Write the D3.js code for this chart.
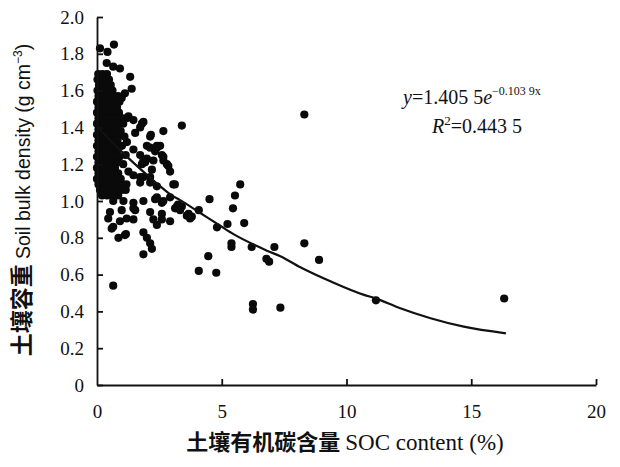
<!DOCTYPE html>
<html><head><meta charset="utf-8">
<script src="https://cdn.jsdelivr.net/npm/d3@7/dist/d3.min.js"></script>
<style>body{margin:0;background:#fff}svg{display:block}</style>
</head><body>
<svg id="chart" width="620" height="467"></svg>
<script>
// ---- data ----
const xTicks = [0, 5, 10, 15, 20];
const xTickLabels = ["0", "5", "10", "15", "20"];
const yTicks = [0, 0.2, 0.4, 0.6, 0.8, 1.0, 1.2, 1.4, 1.6, 1.8, 2.0];
const yTickLabels = ["0", "0.2", "0.4", "0.6", "0.8", "1.0", "1.2", "1.4", "1.6", "1.8", "2.0"];

// SOC content (%) , soil bulk density (g cm-3)
const samples = [
  // top
  [0.12,1.83],[0.68,1.85],[0.42,1.81],[0.39,1.75],[0.65,1.73],[0.92,1.72],
  [1.33,1.675],[1.39,1.61],[1.12,1.585],[0.99,1.56],
  // dense cluster near the origin
  [0.05,1.69],[0.22,1.69],[0.4,1.69],
  [0.02,1.66],[0.15,1.66],[0.3,1.66],[0.48,1.66],
  [0.08,1.63],[0.22,1.63],[0.38,1.63],[0.55,1.63],
  [0.02,1.60],[0.15,1.60],[0.3,1.60],[0.45,1.60],[0.62,1.60],
  [0.06,1.57],[0.2,1.57],[0.35,1.57],[0.5,1.57],[0.68,1.57],[0.85,1.57],
  [0.0,1.54],[0.13,1.54],[0.28,1.54],[0.42,1.54],[0.58,1.54],[0.74,1.54],[0.9,1.54],
  [0.06,1.51],[0.2,1.51],[0.35,1.51],[0.5,1.51],[0.65,1.51],[0.8,1.51],
  [0.0,1.48],[0.13,1.48],[0.27,1.48],[0.42,1.48],[0.57,1.48],[0.72,1.48],[0.88,1.48],
  [0.06,1.45],[0.2,1.45],[0.35,1.45],[0.5,1.45],[0.65,1.45],[0.8,1.45],[0.98,1.45],
  [0.0,1.42],[0.13,1.42],[0.28,1.42],[0.43,1.42],[0.58,1.42],[0.72,1.42],[0.88,1.42],
  [0.06,1.39],[0.2,1.39],[0.35,1.39],[0.5,1.39],[0.65,1.39],[0.82,1.39],
  [0.0,1.36],[0.14,1.36],[0.28,1.36],[0.43,1.36],[0.58,1.36],[0.74,1.36],[0.92,1.36],
  [0.06,1.33],[0.2,1.33],[0.35,1.33],[0.5,1.33],[0.66,1.33],[0.82,1.33],
  [0.0,1.30],[0.13,1.30],[0.28,1.30],[0.42,1.30],[0.57,1.30],[0.72,1.30],[0.88,1.30],
  [0.06,1.27],[0.2,1.27],[0.35,1.27],[0.5,1.27],[0.65,1.27],[0.8,1.27],
  [0.0,1.24],[0.14,1.24],[0.28,1.24],[0.43,1.24],[0.58,1.24],[0.74,1.24],[0.9,1.24],
  [0.06,1.21],[0.2,1.21],[0.35,1.21],[0.5,1.21],[0.66,1.21],[0.82,1.21],
  [0.0,1.18],[0.13,1.18],[0.28,1.18],[0.42,1.18],[0.57,1.18],[0.72,1.18],
  [0.06,1.15],[0.2,1.15],[0.35,1.15],[0.5,1.15],[0.65,1.15],[0.85,1.15],
  [0.0,1.12],[0.14,1.12],[0.28,1.12],[0.43,1.12],[0.58,1.12],[0.75,1.12],[0.95,1.12],
  [0.06,1.09],[0.2,1.09],[0.35,1.09],[0.5,1.09],[0.66,1.09],[0.82,1.09],[1.0,1.09],[1.18,1.09],
  [0.12,1.06],[0.28,1.06],[0.45,1.06],[0.62,1.06],[0.8,1.06],[0.98,1.06],[1.15,1.06],
  [0.2,1.03],[0.4,1.03],[0.6,1.03],[0.85,1.03],
  [1.05,1.42],[1.1,1.35],[1.0,1.30],[1.15,1.25],[1.05,1.20],[0.95,1.38],[1.2,1.32],
  // right of the cluster
  [1.19,1.45],[1.46,1.44],[1.73,1.40],[1.86,1.43],[2.13,1.35],[2.66,1.38],[2.53,1.30],
  [1.53,1.37],[2.0,1.30],[2.13,1.29],[2.4,1.30],[2.6,1.25],[2.66,1.22],[2.8,1.20],
  [1.73,1.25],[1.8,1.20],[2.0,1.23],[2.2,1.17],[1.86,1.13],[1.26,1.16],[1.46,1.14],
  [1.73,1.10],[2.13,1.10],[2.4,1.08],[3.06,1.09],[2.86,1.19],[2.93,1.16],[1.26,1.46],
  [1.8,1.42],[2.16,1.36],[2.33,1.27],[2.66,1.24],[1.86,1.22],[2.26,1.22],[1.46,1.28],
  [1.93,1.21],[2.13,1.13],[1.73,1.13],[2.4,1.29],[3.4,1.41],[3.12,1.09],
  // lower part
  [0.65,1.0],[1.06,1.0],[1.46,0.99],[1.86,1.0],[2.33,1.01],[2.6,0.99],[0.52,0.94],
  [0.45,0.905],[0.99,0.95],[1.46,0.96],[2.13,0.94],[3.13,0.96],[3.4,0.97],[3.6,0.92],
  [0.65,0.86],[0.92,0.89],[1.19,0.905],[1.46,0.90],[2.26,0.90],[2.4,0.87],[2.6,0.90],
  [2.93,0.89],[0.59,0.85],[0.86,0.80],[1.12,0.815],[1.86,0.83],[2.0,0.80],[2.13,0.77],
  [2.2,0.74],[1.86,0.71],[0.65,0.54],[2.93,1.02],[3.25,0.98],[1.53,0.95],[2.4,1.02],
  [2.66,1.0],[2.6,0.93],[1.16,0.82],[3.67,0.93],[3.73,0.905],[3.2,0.97],[3.33,0.95],
  [3.8,0.915],
  // scattered higher SOC
  [4.08,0.95],[4.51,1.01],[5.53,1.03],[5.74,1.09],[5.45,0.96],[5.23,0.875],[4.81,0.857],
  [5.9,0.88],[5.39,0.77],[5.39,0.75],[6.2,0.75],[7.11,0.75],[4.46,0.70],[6.79,0.686],
  [6.9,0.67],[4.08,0.62],[4.78,0.61],[6.25,0.44],[6.25,0.41],[7.35,0.42],
  [8.31,1.47],[8.31,0.77],[8.9,0.68],[11.18,0.46],[16.32,0.47]
];

// fitted curve as drawn in the figure (SOC, bulk density)
const fitCurve = [
  [0,1.405],[0.5,1.334],[1,1.267],[1.5,1.203],[2,1.142],[2.5,1.084],[3,1.03],
  [3.33,1.005],[4.14,0.935],[5.0,0.86],[5.47,0.82],[6.41,0.755],[6.81,0.73],
  [7.35,0.70],[8.15,0.64],[9.4,0.561],[10.7,0.49],[11.16,0.471],[12.1,0.42],
  [13.37,0.363],[14.7,0.317],[16.39,0.281]
];

// ---- chart ----
const svg = d3.select("#chart");
svg.append("rect").attr("width",620).attr("height",467).attr("fill","#fff");

const x = d3.scaleLinear().domain([0,20]).range([97,596]);
const y = d3.scaleLinear().domain([0,2]).range([385,17]);

const serif = "'Liberation Serif', 'Times New Roman', serif";
const sans = "'Liberation Sans', Arial, sans-serif";
const cjk = "'Noto Sans CJK SC', sans-serif";

// points
svg.append("g").selectAll("circle").data(samples).join("circle")
  .attr("cx", d => x(d[0])).attr("cy", d => y(d[1])).attr("r", 4.1)
  .attr("fill", "#0a0a0a");

// fitted line
svg.append("path").datum(fitCurve)
  .attr("d", d3.line().x(d => x(d[0])).y(d => y(d[1])).curve(d3.curveMonotoneX))
  .attr("fill","none").attr("stroke","#111").attr("stroke-width",2.2);

// axes
const yAxis = d3.axisLeft(y).tickValues(yTicks).tickFormat((d,i)=>yTickLabels[i])
  .tickSizeInner(-6).tickSizeOuter(0).tickPadding(13);
const xAxis = d3.axisBottom(x).tickValues(xTicks).tickFormat((d,i)=>xTickLabels[i])
  .tickSizeInner(-6).tickSizeOuter(0).tickPadding(20);

const gy = svg.append("g").attr("transform","translate(97,0)").call(yAxis);
const gx = svg.append("g").attr("transform","translate(0,385)").call(xAxis);
[gx, gy].forEach(g => {
  g.attr("font-family", null).attr("font-size", null);
  g.select(".domain").attr("stroke","#111").attr("stroke-width",1.8);
  g.selectAll(".tick line").attr("stroke","#111").attr("stroke-width",1.8);
  g.selectAll(".tick text").style("font-family", serif).style("font-size","19px").attr("fill","#111");
});
gx.selectAll(".tick").filter(d => d === 0).select("line").remove();

// y axis title
const yt = svg.append("text")
  .attr("transform","translate(30,200) rotate(-90)")
  .attr("text-anchor","middle").attr("fill","#111");
yt.append("tspan").style("font-family",cjk).style("font-weight","bold").style("font-size","23px").text("土壤容重 ");
yt.append("tspan").style("font-family",sans).style("font-size","19.5px").text("Soil bulk density (g cm");
yt.append("tspan").style("font-family",sans).style("font-size","12px").attr("dy",-8).text("−3");
yt.append("tspan").style("font-family",sans).style("font-size","19.5px").attr("dy",8).text(")");

// x axis title
const xt = svg.append("text").attr("x",345).attr("y",450)
  .attr("text-anchor","middle").attr("fill","#111");
xt.append("tspan").style("font-family",cjk).style("font-weight","bold").style("font-size","22px").text("土壤有机碳含量 ");
xt.append("tspan").style("font-family",serif).style("font-size","23px").text("SOC content (%)");

// equation
const eq = svg.append("text").attr("x",403).attr("y",104).attr("fill","#111")
  .style("font-family",serif).style("font-size","20px");
eq.append("tspan").style("font-style","italic").text("y");
eq.append("tspan").text("=1.405 5");
eq.append("tspan").style("font-style","italic").text("e");
eq.append("tspan").style("font-size","12px").attr("dy",-9).text("−0.103 9x");

const r2 = svg.append("text").attr("x",432).attr("y",133).attr("fill","#111")
  .style("font-family",serif).style("font-size","20px");
r2.append("tspan").style("font-style","italic").text("R");
r2.append("tspan").style("font-size","13px").attr("dy",-8).text("2");
r2.append("tspan").attr("dy",8).text("=0.443 5");
</script>
</body></html>
